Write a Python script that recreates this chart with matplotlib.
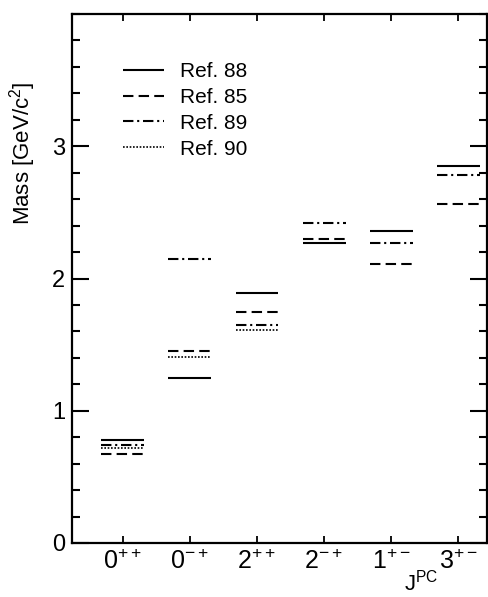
import numpy as np
import matplotlib
matplotlib.use("Agg")
import matplotlib.pyplot as plt
from matplotlib.ticker import FixedLocator, MultipleLocator

plt.rcParams['font.family'] = ['Liberation Sans', 'DejaVu Sans']
plt.rcParams['mathtext.default'] = 'regular'

# J^PC states and mass levels (GeV/c^2)
states = ['0^{++}', '0^{-+}', '2^{++}', '2^{-+}', '1^{+-}', '3^{+-}']
ref88 = [0.78, 1.25, 1.89, 2.27, 2.36, 2.85]   # solid
ref85 = [0.67, 1.45, 1.75, 2.30, 2.11, 2.56]   # dashed
ref89 = [0.74, 2.15, 1.65, 2.42, 2.27, 2.78]   # dash-dot
ref90 = [0.72, 1.41, 1.61, None, None, None]   # dotted

series = [
    ('Ref. 88', ref88, dict(ls='-', lw=1.5)),
    ('Ref. 85', ref85, dict(ls=(0, (5, 2.5)), lw=1.5)),
    ('Ref. 89', ref89, dict(ls=(0, (5, 1.8, 1, 1.8)), lw=1.5)),
    ('Ref. 90', ref90, dict(ls=(0, (1, 1)), lw=1.2)),
]

half = 0.32  # half width of a level bar
xpos = np.arange(1, len(states) + 1)

fig = plt.figure(figsize=(4.89, 5.97), dpi=100)
ax = fig.add_axes([0.147, 0.0905, 0.849, 0.886])

for name, vals, style in series:
    first = True
    for x, v in zip(xpos, vals):
        if v is None:
            continue
        ax.hlines(v, x - half, x + half, color='black',
                  label=name if first else None, **style)
        first = False

ax.set_xlim(0.24, 6.43)
ax.set_ylim(0, 4.0)

ax.set_xticks(xpos)
ax.set_xticklabels(['$' + s + '$' for s in states], fontsize=18)
ax.yaxis.set_major_locator(FixedLocator([0, 1, 2, 3]))
ax.yaxis.set_minor_locator(MultipleLocator(0.2))
ax.tick_params(axis='y', which='major', direction='in', length=12, width=1.5,
               left=True, right=True, labelsize=17, pad=5)
ax.tick_params(axis='y', which='minor', direction='in', length=6, width=1.5,
               left=True, right=True)
ax.tick_params(axis='x', which='major', direction='in', length=5, width=1.3,
               top=True, bottom=True, pad=5)

for sp in ax.spines.values():
    sp.set_linewidth(1.6)

fig.text(23 / 489, 1 - 153 / 597, 'Mass [GeV/c$^2$]', rotation=90,
         ha='center', va='center', fontsize=16)
fig.text(404 / 489, 1.5 / 597, '$J^{PC}$', ha='left', va='bottom', fontsize=16)

ax.legend(loc='upper left', bbox_to_anchor=(0.103, 0.925), frameon=False,
          fontsize=15, handlelength=1.95, handletextpad=0.8, labelspacing=0.33,
          borderaxespad=0)

fig.savefig('out.png', dpi=100)
